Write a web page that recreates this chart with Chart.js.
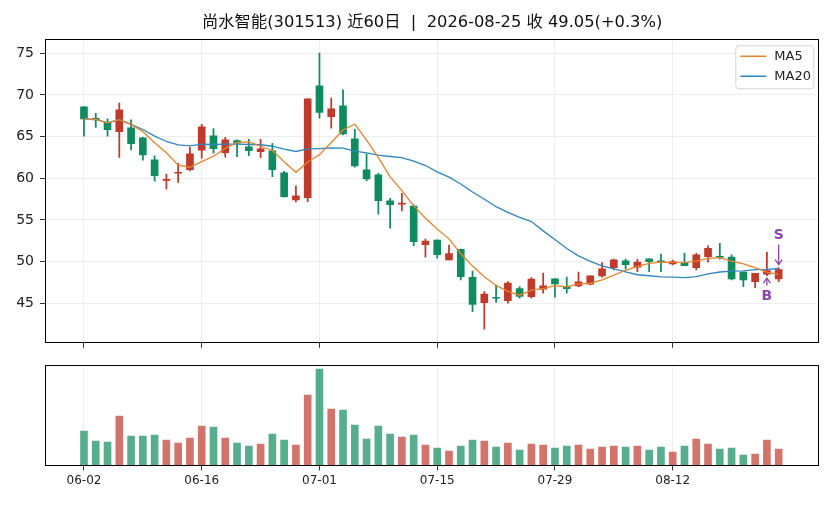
<!DOCTYPE html>
<html>
<head>
<meta charset="utf-8">
<script src="https://cdn.jsdelivr.net/npm/chart.js@4.4.0/dist/chart.umd.min.js"></script>
<style>
  html, body { margin: 0; padding: 0; background: #fff; }
  #wrap { position: relative; width: 836px; height: 506px; }
  #price { position: absolute; left: 0; top: 0; }
  #vol { position: absolute; left: 0; top: 352px; }
</style>
</head>
<body>
<div id="wrap">
  <canvas id="price" width="836" height="352"></canvas>
  <canvas id="vol" width="836" height="154"></canvas>
</div>
<script>
// trading days shown (last 60)
const dates = [
  '06-02', '06-03', '06-04', '06-05', '06-08', '06-09', '06-10', '06-11', '06-12', '06-15',
  '06-16', '06-17', '06-18', '06-22', '06-23', '06-24', '06-25', '06-26', '06-29', '06-30',
  '07-01', '07-02', '07-03', '07-06', '07-07', '07-08', '07-09', '07-10', '07-13', '07-14',
  '07-15', '07-16', '07-17', '07-20', '07-21', '07-22', '07-23', '07-24', '07-27', '07-28',
  '07-29', '07-30', '07-31', '08-03', '08-04', '08-05', '08-06', '08-07', '08-10', '08-11',
  '08-12', '08-13', '08-14', '08-17', '08-18', '08-19', '08-20', '08-21', '08-24', '08-25'
]
const open = [
  68.56, 67.2, 66.72, 65.6, 66.04, 64.84, 62.2, 59.75, 60.6, 61.03,
  63.36, 65.08, 63.07, 64.51, 63.76, 63.19, 63.28, 60.64, 57.4, 57.67,
  71.08, 67.39, 68.68, 64.72, 61.0, 60.4, 57.28, 56.9, 56.67, 52.03,
  52.59, 50.19, 51.48, 48.12, 45.07, 45.7, 45.31, 46.75, 45.79, 46.69,
  47.92, 47.0, 47.08, 47.29, 48.28, 49.28, 50.08, 49.33, 50.32, 50.05,
  49.72, 49.92, 49.28, 50.6, 50.6, 50.53, 48.73, 47.6, 48.5, 47.92
]
const high = [
  68.6, 67.8, 67.12, 69.0, 67.0, 64.9, 62.68, 60.5, 61.8, 63.72,
  66.48, 65.95, 64.92, 64.6, 64.68, 64.68, 64.2, 60.84, 59.08, 69.52,
  75.0, 69.6, 70.6, 65.88, 62.92, 60.6, 57.6, 58.2, 56.8, 52.71,
  52.6, 51.99, 51.5, 48.87, 46.39, 47.19, 47.59, 46.99, 48.07, 48.61,
  47.95, 48.13, 48.73, 48.3, 49.88, 50.29, 50.29, 50.29, 50.32, 50.9,
  50.17, 51.0, 51.0, 51.88, 52.2, 50.8, 48.73, 48.6, 51.13, 49.28
]
const low = [
  65.04, 66.1, 65.04, 62.5, 63.4, 62.16, 59.64, 58.7, 59.5, 60.88,
  62.4, 63.0, 62.52, 62.6, 62.7, 62.47, 60.2, 57.72, 57.15, 57.19,
  67.2, 66.0, 65.2, 61.32, 59.71, 55.68, 54.0, 56.07, 51.9, 50.52,
  50.4, 50.19, 47.8, 43.99, 41.88, 45.11, 45.0, 45.6, 45.6, 46.2,
  45.73, 46.2, 47.0, 47.2, 48.13, 49.0, 49.09, 48.8, 48.8, 48.8,
  49.6, 49.5, 49.0, 49.93, 50.3, 47.8, 47.0, 46.88, 48.32, 47.6
]
const close = [
  67.12, 67.0, 65.83, 68.2, 64.15, 62.8, 60.31, 59.85, 60.7, 62.92,
  66.16, 63.55, 64.6, 64.2, 63.31, 63.52, 61.03, 57.79, 57.88, 69.52,
  67.88, 68.32, 65.32, 61.48, 59.92, 57.31, 56.83, 57.0, 52.39, 52.47,
  50.83, 50.95, 48.19, 44.87, 46.11, 45.6, 47.43, 45.83, 47.91, 47.08,
  47.32, 46.76, 47.56, 48.28, 49.12, 50.2, 49.64, 49.93, 50.0, 49.97,
  50.0, 49.52, 50.8, 51.6, 50.5, 47.92, 47.8, 48.6, 48.92, 49.05
]
const volume = [
  35, 25, 24, 50, 30, 30, 31, 26, 23, 28,
  40, 39, 28, 23, 20, 22, 32, 26, 21, 71,
  97, 57, 56, 41, 27, 40, 32, 29, 31, 21,
  18, 15, 20, 26, 25, 19, 23, 16, 22, 21,
  18, 20, 21, 17, 19, 20, 19, 20, 16, 19,
  14, 20, 27, 22, 17, 18, 11, 12, 26, 17
]
const tickIdx = [0, 10, 20, 30, 40, 50]
const priceTicks = [45, 50, 55, 60, 65, 70, 75]
const signalIdx = [58, 59]
const signalType = ['B', 'S']

const UP = '#c0392b'
const DOWN = '#0e8c60'
const UP_VOL = 'rgba(192,57,43,0.7)'
const DOWN_VOL = 'rgba(14,140,96,0.7)'
const MA5_COLOR = '#e8832a'
const MA20_COLOR = '#2e86c1'
const GRID = '#e8e8e8'
const FONT = '"DejaVu Sans", "Noto Sans CJK SC", sans-serif'
const X_MIN = -3.31
const X_MAX = 62.45

Chart.defaults.font.family = FONT
Chart.defaults.color = '#222'

function movingAvg(n) {
  return close.map((c, i) => {
    const part = close.slice(Math.max(0, i - n + 1), i + 1)
    return part.reduce((a, b) => a + b, 0) / part.length
  })
}
const ma5 = movingAvg(5)
const ma20 = movingAvg(20)
const isUp = close.map((c, i) => c >= open[i])

// black box round each panel
const frame = {
  id: 'frame',
  afterDraw(chart) {
    const { ctx, chartArea: a } = chart
    ctx.save()
    ctx.strokeStyle = '#000'
    ctx.lineWidth = 1
    const l = Math.round(a.left) + 0.5
    const t = Math.round(a.top) + 0.5
    const r = Math.round(a.right) - 0.5
    const b = Math.round(a.bottom) - 0.5
    ctx.strokeRect(l, t, r - l, b - t)
    ctx.restore()
  }
}

function arrow(ctx, x0, y0, x1, y1) {
  ctx.beginPath()
  ctx.moveTo(x0, y0)
  ctx.lineTo(x1, y1)
  ctx.stroke()
  const d = y1 > y0 ? 1 : -1
  ctx.beginPath()
  ctx.moveTo(x1 - 3.5, y1 - 5 * d)
  ctx.lineTo(x1, y1)
  ctx.lineTo(x1 + 3.5, y1 - 5 * d)
  ctx.stroke()
}

// B / S signals
const marks = {
  id: 'marks',
  afterDatasetsDraw(chart) {
    const { ctx, scales } = chart
    ctx.save()
    ctx.fillStyle = '#8e44ad'
    ctx.strokeStyle = '#8e44ad'
    ctx.lineWidth = 1.3
    ctx.font = 'bold 14px ' + FONT
    ctx.textAlign = 'center'
    ctx.textBaseline = 'middle'
    signalIdx.forEach((i, k) => {
      const px = scales.x.getPixelForValue(i)
      if (signalType[k] === 'B') {
        const py = scales.y.getPixelForValue(low[i])
        arrow(ctx, px, py + 10, px, py + 2.5)
        ctx.fillText('B', px, py + 20.5)
      } else {
        const py = scales.y.getPixelForValue(high[i])
        arrow(ctx, px, py - 23, px, py - 3)
        ctx.fillText('S', px, py - 32)
      }
    })
    ctx.restore()
  }
}

// legend box in the upper right corner
const maLegend = {
  id: 'maLegend',
  afterDraw(chart) {
    const { ctx, chartArea: a } = chart
    const w = 78, h = 43
    const bx = a.right - 6 - w
    const by = a.top + 6
    ctx.save()
    ctx.fillStyle = 'rgba(255,255,255,0.85)'
    ctx.strokeStyle = '#d4d4d4'
    ctx.lineWidth = 1
    ctx.beginPath()
    ctx.roundRect(bx + 0.5, by + 0.5, w, h, 3)
    ctx.fill()
    ctx.stroke()
    const rows = [['MA5', MA5_COLOR], ['MA20', MA20_COLOR]]
    ctx.font = '13px ' + FONT
    ctx.textBaseline = 'middle'
    ctx.textAlign = 'left'
    rows.forEach((r, k) => {
      const ry = by + 11 + k * 20
      ctx.strokeStyle = r[1]
      ctx.lineWidth = 1.5
      ctx.beginPath()
      ctx.moveTo(bx + 5, ry)
      ctx.lineTo(bx + 31, ry)
      ctx.stroke()
      ctx.fillStyle = '#222'
      ctx.fillText(r[0], bx + 39, ry)
    })
    ctx.restore()
  }
}

const xTicks = s => { s.ticks = tickIdx.map(v => ({ value: v })) }

new Chart(document.getElementById('price'), {
  type: 'bar',
  data: {
    datasets: [
      {
        type: 'line',
        label: 'MA5',
        data: ma5.map((v, i) => ({ x: i, y: v })),
        borderColor: MA5_COLOR,
        borderWidth: 1.3,
        pointRadius: 0,
        tension: 0,
        order: 0
      },
      {
        type: 'line',
        label: 'MA20',
        data: ma20.map((v, i) => ({ x: i, y: v })),
        borderColor: MA20_COLOR,
        borderWidth: 1.3,
        pointRadius: 0,
        tension: 0,
        order: 0
      },
      {
        label: 'body',
        data: dates.map((d, i) => ({ x: i, y: [open[i], close[i]] })),
        backgroundColor: isUp.map(u => (u ? UP : DOWN)),
        grouped: false,
        barPercentage: 1,
        categoryPercentage: 1,
        maxBarThickness: 7,
        minBarLength: 1,
        order: 1
      },
      {
        label: 'wick',
        data: dates.map((d, i) => ({ x: i, y: [low[i], high[i]] })),
        backgroundColor: isUp.map(u => (u ? UP : DOWN)),
        grouped: false,
        barPercentage: 1,
        categoryPercentage: 1,
        maxBarThickness: 1.1,
        order: 2
      }
    ]
  },
  options: {
    responsive: false,
    animation: false,
    layout: { padding: { left: 0, right: 16.7, top: 0, bottom: 0 } },
    plugins: {
      legend: { display: false },
      tooltip: { enabled: false },
      title: {
        display: true,
        fullSize: false,
        text: '尚水智能(301513) 近60日  |  2026-08-25 收 49.05(+0.3%)',
        color: '#111',
        font: { size: 16.3, weight: 'normal' },
        padding: { top: 13, bottom: 6.7 }
      }
    },
    scales: {
      x: {
        type: 'linear',
        min: X_MIN,
        max: X_MAX,
        offset: false,
        afterBuildTicks: xTicks,
        afterFit: s => {
          s.height = 8.7
          s.paddingLeft = 0
          s.paddingRight = 0
        },
        grid: { offset: false, color: GRID, lineWidth: 0.8, tickColor: '#000', tickLength: 4.5 },
        border: { display: false },
        ticks: { display: false }
      },
      y: {
        min: 40.2,
        max: 76.67,
        afterBuildTicks: s => { s.ticks = priceTicks.map(v => ({ value: v })) },
        afterFit: s => {
          s.width = 45
          s.paddingTop = 0
          s.paddingBottom = 0
        },
        grid: { color: GRID, lineWidth: 0.8, tickColor: '#000', tickLength: 5 },
        border: { display: false },
        ticks: { font: { size: 14 }, color: '#222', padding: 6 }
      }
    }
  },
  plugins: [marks, maLegend, frame]
})

new Chart(document.getElementById('vol'), {
  type: 'bar',
  data: {
    datasets: [
      {
        label: 'volume',
        data: volume.map((v, i) => ({ x: i, y: v })),
        backgroundColor: isUp.map(u => (u ? UP_VOL : DOWN_VOL)),
        grouped: false,
        barPercentage: 1,
        categoryPercentage: 1,
        maxBarThickness: 7
      }
    ]
  },
  options: {
    responsive: false,
    animation: false,
    layout: { padding: { left: 45, right: 16.7, top: 13, bottom: 0 } },
    plugins: { legend: { display: false }, tooltip: { enabled: false } },
    scales: {
      x: {
        type: 'linear',
        min: X_MIN,
        max: X_MAX,
        offset: false,
        afterBuildTicks: xTicks,
        afterFit: s => {
          s.height = 40
          s.paddingLeft = 0
          s.paddingRight = 0
        },
        grid: { offset: false, color: GRID, lineWidth: 0.8, tickColor: '#000', tickLength: 4.5 },
        border: { display: false },
        ticks: {
          callback: v => dates[v],
          font: { size: 12 },
          color: '#222',
          padding: 3,
          maxRotation: 0,
          autoSkip: false
        }
      },
      y: { display: false, min: 0, max: 101 }
    }
  },
  plugins: [frame]
})
</script>
</body>
</html>
